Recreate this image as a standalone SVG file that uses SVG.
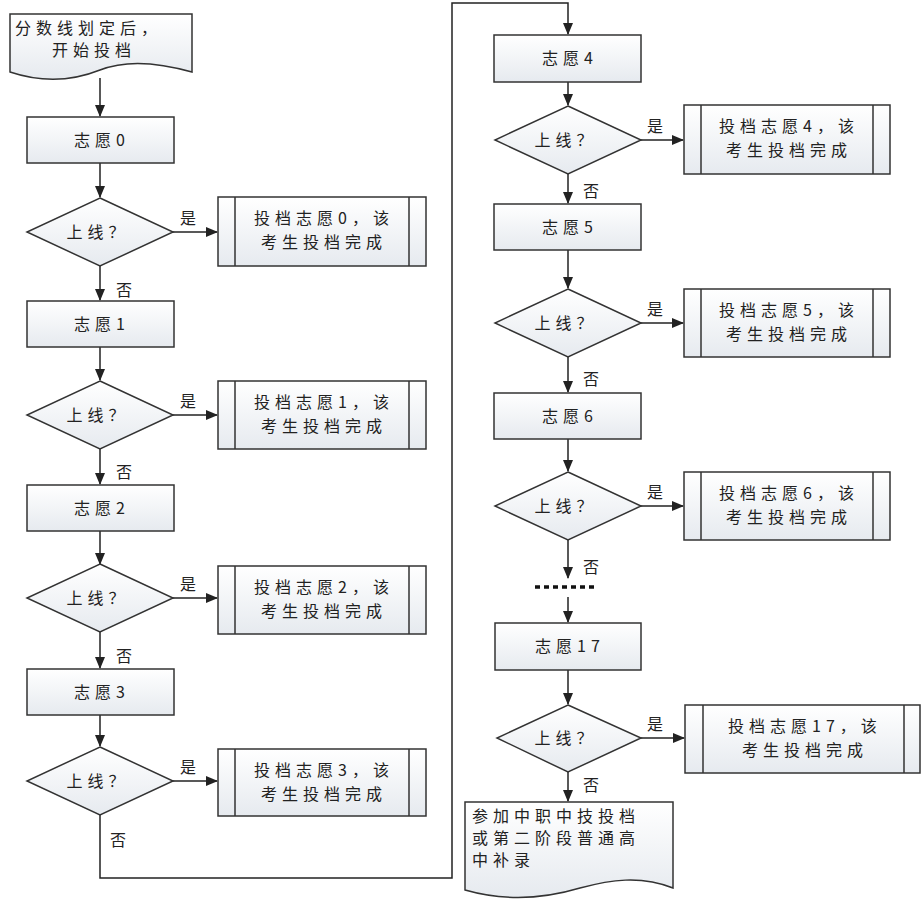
<svg xmlns="http://www.w3.org/2000/svg" width="922" height="902" viewBox="0 0 922 902">
<defs>
<linearGradient id="g" x1="0" y1="0" x2="0" y2="1"><stop offset="0" stop-color="#ffffff"/><stop offset="1" stop-color="#e6eaef"/></linearGradient>
<marker id="a" markerWidth="12" markerHeight="10" refX="11" refY="5" orient="auto" markerUnits="userSpaceOnUse"><path d="M0,0 L12,5 L0,10 Z" fill="#222"/></marker>
</defs>
<style>
.s{fill:url(#g);stroke:#333;stroke-width:1.5}
.l{fill:none;stroke:#333;stroke-width:1.5}
.c{fill:none;stroke:#222;stroke-width:1.5;marker-end:url(#a)}
text{font-family:"Noto Sans CJK SC","Liberation Serif",serif;font-size:16px;fill:#222;letter-spacing:5px}
.m{text-anchor:middle}
</style>
<rect width="922" height="902" fill="#fff"/>
<g id="connectors">
<path class="c" d="M100,78 V116"/>
<path class="c" d="M100,163 V197"/>
<path class="c" d="M173,232 H217"/>
<path class="c" d="M100,266 V300"/>
<path class="c" d="M100,347 V380"/>
<path class="c" d="M173,415 H217"/>
<path class="c" d="M100,449 V484"/>
<path class="c" d="M100,531 V564"/>
<path class="c" d="M173,598 H217"/>
<path class="c" d="M100,632 V668"/>
<path class="c" d="M100,715 V746"/>
<path class="c" d="M173,781 H217"/>
<path class="c" d="M100,815 V878 H452 V3 H568 V34"/>
<path class="c" d="M568,82 V105"/>
<path class="c" d="M641,140 H683"/>
<path class="c" d="M568,174 V203"/>
<path class="c" d="M568,250 V288"/>
<path class="c" d="M641,323 H683"/>
<path class="c" d="M568,357 V392"/>
<path class="c" d="M568,439 V471"/>
<path class="c" d="M641,506 H683"/>
<path class="c" d="M568,540 V578"/>
<path d="M535,587 H597" stroke="#111" stroke-width="3.5" stroke-dasharray="5,4" fill="none"/>
<path class="c" d="M568,597 V622"/>
<path class="c" d="M568,670 V704"/>
<path class="c" d="M641,738 H684"/>
<path class="c" d="M568,772 V801"/>
<text x="180" y="224">是</text><text x="116" y="296">否</text>
<text x="180" y="407">是</text><text x="116" y="478">否</text>
<text x="180" y="590">是</text><text x="116" y="662">否</text>
<text x="180" y="773">是</text><text x="110" y="846">否</text>
<text x="647" y="132">是</text><text x="583" y="197">否</text>
<text x="647" y="315">是</text><text x="583" y="385">否</text>
<text x="647" y="498">是</text><text x="583" y="573">否</text>
<text x="647" y="730">是</text><text x="583" y="791">否</text>
</g>
<g id="start"><path class="s" d="M10,14 H192 V72 C150,60 120,62 100,70 C70,82 40,82 10,72 Z"/><text x="15" y="34">分数线划定后，</text><text x="52" y="56">开始投档</text></g>
<g id="end"><path class="s" d="M465,802 H673 V888 C640,875 610,880 580,888 C540,900 500,900 465,890 Z"/><text x="472" y="822">参加中职中技投档</text><text x="472" y="844">或第二阶段普通高</text><text x="472" y="866">中补录</text></g>
<g id="v0"><rect class="s" x="27" y="117" width="147" height="46"/><text class="m" x="102" y="146">志愿0</text></g>
<g id="v1"><rect class="s" x="27" y="301" width="147" height="46"/><text class="m" x="102" y="330">志愿1</text></g>
<g id="v2"><rect class="s" x="27" y="485" width="147" height="46"/><text class="m" x="102" y="514">志愿2</text></g>
<g id="v3"><rect class="s" x="27" y="669" width="147" height="46"/><text class="m" x="102" y="698">志愿3</text></g>
<g id="v4"><rect class="s" x="494" y="35" width="147" height="47"/><text class="m" x="570" y="64">志愿4</text></g>
<g id="v5"><rect class="s" x="494" y="204" width="147" height="46"/><text class="m" x="570" y="233">志愿5</text></g>
<g id="v6"><rect class="s" x="494" y="393" width="147" height="46"/><text class="m" x="570" y="422">志愿6</text></g>
<g id="v17"><rect class="s" x="495" y="623" width="146" height="47"/><text class="m" x="570" y="652">志愿17</text></g>
<g id="d0"><path class="s" d="M100,198 L173,232 L100,266 L27,232 Z"/><text class="m" x="98" y="238">上线？</text></g>
<g id="d1"><path class="s" d="M100,381 L173,415 L100,449 L27,415 Z"/><text class="m" x="98" y="421">上线？</text></g>
<g id="d2"><path class="s" d="M100,564 L173,598 L100,632 L27,598 Z"/><text class="m" x="98" y="604">上线？</text></g>
<g id="d3"><path class="s" d="M100,747 L173,781 L100,815 L27,781 Z"/><text class="m" x="98" y="787">上线？</text></g>
<g id="d4"><path class="s" d="M568,106 L641,140 L568,174 L495,140 Z"/><text class="m" x="566" y="146">上线？</text></g>
<g id="d5"><path class="s" d="M568,289 L641,323 L568,357 L495,323 Z"/><text class="m" x="566" y="329">上线？</text></g>
<g id="d6"><path class="s" d="M568,472 L641,506 L568,540 L495,506 Z"/><text class="m" x="566" y="512">上线？</text></g>
<g id="d17"><path class="s" d="M568,705 L641,738 L568,772 L497,738 Z"/><text class="m" x="566" y="744">上线？</text></g>
<g id="p0"><rect class="s" x="218" y="197" width="208" height="69"/><path class="l" d="M235,197 V266 M409,197 V266"/><text class="m" x="324" y="224">投档志愿0，该</text><text class="m" x="324" y="248">考生投档完成</text></g>
<g id="p1"><rect class="s" x="218" y="381" width="208" height="68"/><path class="l" d="M235,381 V449 M409,381 V449"/><text class="m" x="324" y="408">投档志愿1，该</text><text class="m" x="324" y="432">考生投档完成</text></g>
<g id="p2"><rect class="s" x="218" y="566" width="208" height="68"/><path class="l" d="M235,566 V634 M409,566 V634"/><text class="m" x="324" y="593">投档志愿2，该</text><text class="m" x="324" y="617">考生投档完成</text></g>
<g id="p3"><rect class="s" x="218" y="749" width="208" height="67"/><path class="l" d="M235,749 V816 M409,749 V816"/><text class="m" x="324" y="776">投档志愿3，该</text><text class="m" x="324" y="800">考生投档完成</text></g>
<g id="p4"><rect class="s" x="684" y="105" width="206" height="69"/><path class="l" d="M701,105 V174 M873,105 V174"/><text class="m" x="789" y="132">投档志愿4，该</text><text class="m" x="789" y="156">考生投档完成</text></g>
<g id="p5"><rect class="s" x="684" y="289" width="206" height="68"/><path class="l" d="M701,289 V357 M873,289 V357"/><text class="m" x="789" y="316">投档志愿5，该</text><text class="m" x="789" y="340">考生投档完成</text></g>
<g id="p6"><rect class="s" x="684" y="472" width="206" height="68"/><path class="l" d="M701,472 V540 M873,472 V540"/><text class="m" x="789" y="499">投档志愿6，该</text><text class="m" x="789" y="523">考生投档完成</text></g>
<g id="p17"><rect class="s" x="685" y="705" width="235" height="68"/><path class="l" d="M703,705 V773 M904,705 V773"/><text class="m" x="805" y="732">投档志愿17，该</text><text class="m" x="805" y="756">考生投档完成</text></g>
</svg>
